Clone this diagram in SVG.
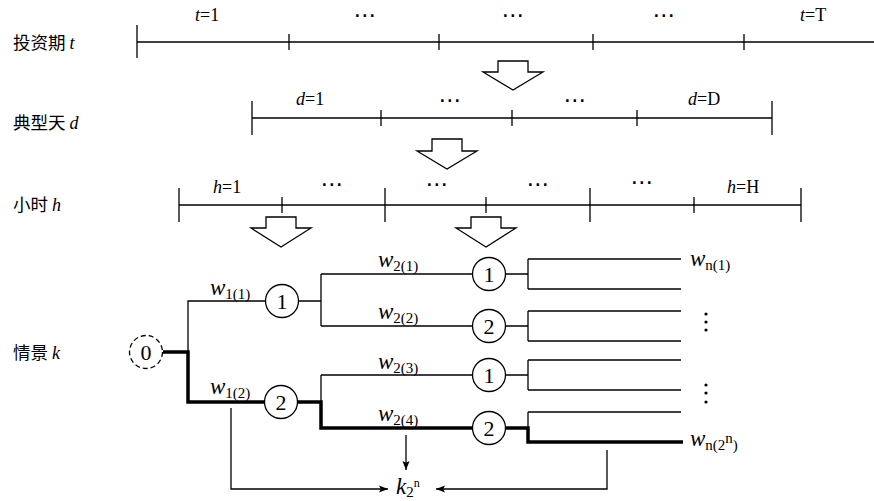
<svg xmlns="http://www.w3.org/2000/svg" width="874" height="501" viewBox="0 0 874 501">
<defs>
<style>
.ln{stroke:#000;stroke-width:1.3;fill:none}
.tk{stroke:#000;stroke-width:3.5;fill:none}
.ar{fill:#fff;stroke:#000;stroke-width:1.3;stroke-linejoin:miter}
.t{font-family:"Liberation Serif","Noto Sans CJK SC",serif;font-size:18px;fill:#000}
.cn{font-family:"Noto Sans CJK SC","Liberation Serif",sans-serif;font-size:17.5px;fill:#000}
.el{font-family:"DejaVu Sans",sans-serif;font-size:23px;text-anchor:middle;fill:#000}
.i{font-style:italic}
.w{font-family:"Liberation Serif",serif;font-size:23px;fill:#000}
.sub{font-size:15px;font-style:normal}
.nd{fill:#fff;stroke:#000;stroke-width:1.3}
.nt{font-family:"Liberation Serif",serif;font-size:22px;text-anchor:middle;fill:#000}
.dot{fill:#000}
</style>
<marker id="ah" viewBox="0 0 10 10" refX="10" refY="5" markerWidth="9" markerHeight="9" markerUnits="userSpaceOnUse" orient="auto">
<path d="M0,1 L10,5 L0,9 L2,5 Z" fill="#000"/>
</marker>
</defs>

<g id="labels">
<text class="cn" x="13" y="49">投资期 <tspan class="t i">t</tspan></text>
<text class="cn" x="13" y="129">典型天 <tspan class="t i">d</tspan></text>
<text class="cn" x="13" y="211">小时 <tspan class="t i">h</tspan></text>
<text class="cn" x="13" y="359">情景 <tspan class="t i">k</tspan></text>
</g>

<g id="timeline-t">
<path class="ln" d="M137,42 H874 M137,25 V58 M289,34 V50 M439,34 V50 M593,34 V50 M744,34 V50"/>
<text class="t" x="195" y="21"><tspan class="i">t</tspan>=1</text>
<text class="el" x="365" y="23">⋯</text>
<text class="el" x="513" y="23">⋯</text>
<text class="el" x="664" y="23">⋯</text>
<text class="t" x="800" y="21"><tspan class="i">t</tspan>=T</text>
</g>

<g id="timeline-d">
<path class="ln" d="M252,118 H772 M252,101 V135 M381,110 V126 M512,110 V126 M637,110 V126 M772,101 V135"/>
<text class="t" x="296" y="105"><tspan class="i">d</tspan>=1</text>
<text class="el" x="450" y="108">⋯</text>
<text class="el" x="575" y="108">⋯</text>
<text class="t" x="688" y="105"><tspan class="i">d</tspan>=D</text>
</g>

<g id="timeline-h">
<path class="ln" d="M179,205 H801 M179,188 V222 M282,197 V213 M385,188 V222 M486,197 V213 M590,188 V222 M694,197 V213 M801,188 V222"/>
<text class="t" x="213" y="193"><tspan class="i">h</tspan>=1</text>
<text class="el" x="332" y="192">⋯</text>
<text class="el" x="437" y="192">⋯</text>
<text class="el" x="538" y="192">⋯</text>
<text class="el" x="642" y="190">⋯</text>
<text class="t" x="727" y="193"><tspan class="i">h</tspan>=H</text>
</g>

<g id="big-arrows">
<path class="ar" d="M498,61 H528 V72 H543 L513,90 L483,72 H498 Z"/>
<path class="ar" d="M432,139 H462 V151 H477 L447,169 L417,151 H432 Z"/>
<path class="ar" d="M266,217 H296 V228 H311 L281,247 L251,228 H266 Z"/>
<path class="ar" d="M471,217 H501 V228 H516 L486,247 L456,228 H471 Z"/>
</g>

<g id="connectors">
<path class="ln" d="M188,352 V301 H266"/>
<path class="ln" d="M298,301 H321 M321,274 V326 M321,274 H473 M321,326 H473"/>
<path class="ln" d="M321,375 V402 M321,375 H473"/>
<path class="tk" d="M163,352 H188 V402 H265"/>
<path class="tk" d="M297,402 H321 V428 H473"/>
<path class="ln" d="M505,274 H528 M528,259 V289 M528,259 H681 M528,289 H681"/>
<path class="ln" d="M505,326 H528 M528,311 V341 M528,311 H681 M528,341 H681"/>
<path class="ln" d="M505,375 H528 M528,360 V390 M528,360 H681 M528,390 H681"/>
<path class="ln" d="M528,412 V428 M528,412 H681"/>
<path class="tk" d="M505,428 H528 V442 H683"/>
<path class="ln" d="M231,408 V489 H388" marker-end="url(#ah)"/>
<path class="ln" d="M406,435 V470" marker-end="url(#ah)"/>
<path class="ln" d="M607,450 V489 H436" marker-end="url(#ah)"/>
</g>

<g id="node0">
<circle cx="146" cy="352" r="16.5" fill="#fff" stroke="#000" stroke-width="1.3" stroke-dasharray="5,3"/>
<text class="nt" x="146" y="360">0</text>
</g>
<g id="node1a"><circle class="nd" cx="282" cy="301" r="16.5"/><text class="nt" x="282" y="309">1</text></g>
<g id="node2a"><circle class="nd" cx="281" cy="402" r="16.5"/><text class="nt" x="281" y="410">2</text></g>
<g id="node1b"><circle class="nd" cx="489" cy="274" r="16.5"/><text class="nt" x="489" y="282">1</text></g>
<g id="node2b"><circle class="nd" cx="489" cy="326" r="16.5"/><text class="nt" x="489" y="334">2</text></g>
<g id="node1c"><circle class="nd" cx="489" cy="375" r="16.5"/><text class="nt" x="489" y="383">1</text></g>
<g id="node2c"><circle class="nd" cx="489" cy="428" r="16.5"/><text class="nt" x="489" y="436">2</text></g>

<g id="weights">
<text class="w" x="210" y="295"><tspan class="i">w</tspan><tspan class="sub" dy="4">1(1)</tspan></text>
<text class="w" x="210" y="394"><tspan class="i">w</tspan><tspan class="sub" dy="4">1(2)</tspan></text>
<text class="w" x="378" y="267"><tspan class="i">w</tspan><tspan class="sub" dy="4">2(1)</tspan></text>
<text class="w" x="378" y="319"><tspan class="i">w</tspan><tspan class="sub" dy="4">2(2)</tspan></text>
<text class="w" x="378" y="369"><tspan class="i">w</tspan><tspan class="sub" dy="4">2(3)</tspan></text>
<text class="w" x="378" y="421"><tspan class="i">w</tspan><tspan class="sub" dy="4">2(4)</tspan></text>
<text class="w" x="690" y="266"><tspan class="i">w</tspan><tspan class="sub" dy="4">n(1)</tspan></text>
<text class="w" x="690" y="446"><tspan class="i">w</tspan><tspan class="sub" dy="4">n(2</tspan><tspan class="sub" font-size="11" dy="-7">n</tspan><tspan class="sub" dy="7">)</tspan></text>
<circle class="dot" cx="706" cy="314" r="1.6"/><circle class="dot" cx="706" cy="322" r="1.6"/><circle class="dot" cx="706" cy="330" r="1.6"/>
<circle class="dot" cx="706" cy="385" r="1.6"/><circle class="dot" cx="706" cy="393" r="1.6"/><circle class="dot" cx="706" cy="402" r="1.6"/>
</g>

<g id="k-node">
<text class="w" x="396" y="494" font-size="30"><tspan class="i">k</tspan><tspan font-size="15" dy="3">2</tspan><tspan font-size="12" dy="-10">n</tspan></text>
</g>
</svg>
